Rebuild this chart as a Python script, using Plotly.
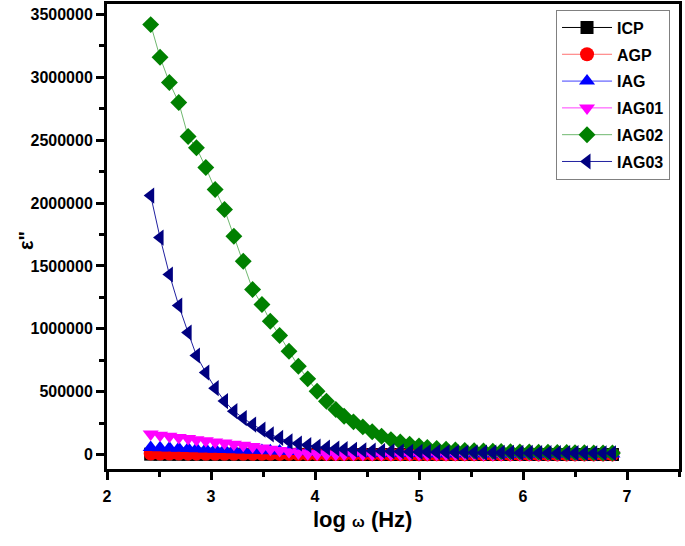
import plotly.graph_objects as go

# ---- data ----
log_w = [2.42, 2.51, 2.60, 2.69, 2.78, 2.86, 2.95, 3.04, 3.13, 3.22,
         3.31, 3.40, 3.49, 3.57, 3.66, 3.75, 3.84, 3.93, 4.02, 4.11,
         4.20, 4.28, 4.37, 4.46, 4.55, 4.64, 4.73, 4.82, 4.91, 5.00,
         5.08, 5.17, 5.26, 5.35, 5.44, 5.53, 5.62, 5.71, 5.79, 5.88,
         5.97, 6.06, 6.15, 6.24, 6.33, 6.42, 6.50, 6.59, 6.68, 6.77, 6.86]

icp = [3000, 2800, 2600, 2400, 2200, 2000, 1900, 1800, 1700, 1600,
       1500, 1400, 1300, 1200, 1100, 1000, 900, 800, 700, 600,
       500, 500, 400, 400, 300, 300, 300, 200, 200, 200,
       200, 100, 100, 100, 100, 100, 100, 100, 100, 100,
       100, 100, 100, 100, 100, 100, 100, 100, 100, 100, 100]

agp = [8000, 7800, 7600, 7400, 7200, 7000, 6800, 6600, 6400, 6200,
       6000, 5800, 5600, 5400, 5200, 5000, 4800, 4600, 4400, 4200,
       4000, 3800, 3600, 3400, 3200, 3000, 2900, 2800, 2700, 2600,
       2500, 2400, 2300, 2200, 2100, 2000, 1900, 1800, 1700, 1600,
       1500, 1400, 1300, 1200, 1100, 1000, 1000, 1000, 1000, 1000, 1000]

iag = [56000, 54000, 52000, 50000, 48000, 46000, 44000, 42000, 40000, 38000,
       36000, 34000, 32000, 30000, 28000, 26000, 24000, 22000, 20000, 18000,
       16000, 14000, 12000, 11000, 10000, 9500, 9000, 8500, 8000, 7600,
       7200, 6800, 6500, 6200, 6000, 5800, 5600, 5400, 5200, 5000,
       4800, 4700, 4600, 4500, 4400, 4300, 4200, 4100, 4000, 4000, 4000]

iag01 = [163000, 154000, 145000, 136000, 127000, 118000, 109000, 100000, 91000, 82000,
         73000, 63000, 53000, 42000, 32000, 22000, 13000, 7000, 4000, 3000,
         3000, 3000, 2500, 2500, 2000, 2000, 2000, 2000, 1800, 1800,
         1600, 1600, 1500, 1500, 1400, 1400, 1300, 1300, 1200, 1200,
         1100, 1100, 1000, 1000, 1000, 1000, 1000, 1000, 1000, 1000, 1000]

iag02 = [3420000, 3160000, 2960000, 2800000, 2530000, 2440000, 2283000, 2108000, 1949000, 1737000,
         1538000, 1313000, 1193000, 1060000, 947000, 822000, 702000, 602000, 504000, 424000,
         358000, 305000, 260000, 220000, 181000, 146000, 119000, 100000, 82000, 68000,
         57000, 48000, 42000, 37000, 33000, 30000, 28000, 26000, 24000, 22000,
         21000, 20000, 19000, 18000, 17000, 16000, 15000, 14000, 13000, 12000, 12000]

iag03 = [2060000, 1726000, 1432000, 1185000, 970000, 788000, 652000, 528000, 425000, 345000,
         290000, 238000, 198000, 160000, 132000, 105000, 88000, 75000, 64000, 55000,
         48000, 43000, 38000, 34000, 31000, 28000, 26000, 24000, 22000, 21000,
         20000, 19000, 18000, 17000, 16000, 16000, 15000, 15000, 14000, 14000,
         13000, 13000, 12000, 12000, 11000, 11000, 11000, 10000, 10000, 10000, 10000]

names = ["ICP", "AGP", "IAG", "IAG01", "IAG02", "IAG03"]
values = [icp, agp, iag, iag01, iag02, iag03]
symbols = ["square", "circle", "triangle-up", "triangle-down", "diamond", "triangle-left"]
marker_colors = ["#000000", "#FF0000", "#0000FF", "#FF00FF", "#008000", "#000080"]
line_colors = ["#000000", "#FF7070", "#4040FF", "#FF40FF", "#70B870", "#2020A0"]
marker_sizes = [13, 14, 14, 14, 13, 14]

FONT = "Liberation Sans"

fig = go.Figure()
for n, v, s, mc, lc, ms in zip(names, values, symbols, marker_colors, line_colors, marker_sizes):
    fig.add_trace(go.Scatter(
        x=log_w, y=v, name=n, mode="lines+markers",
        legendgroup=n,
        line=dict(color=lc, width=1),
        marker=dict(symbol=s, color=mc, size=ms, line=dict(width=0)),
    ))

axis_common = dict(
    showline=True, linecolor="black", linewidth=3, mirror=True,
    ticks="outside", ticklen=8, tickwidth=3, tickcolor="black",
    showgrid=False, zeroline=False, automargin=False,
    tickfont=dict(family=FONT, size=16, color="black", weight="bold"),
)

fig.update_layout(
    width=685, height=546,
    margin=dict(l=107, r=6, t=4, b=77),
    plot_bgcolor="white", paper_bgcolor="white",
    showlegend=True,
    legend=dict(
        x=0.785, y=0.988, xanchor="left", yanchor="top",
        bordercolor="#808080", borderwidth=1, bgcolor="white",
        font=dict(family=FONT, size=16, color="black", weight="bold"),
        tracegroupgap=3, itemwidth=50,
    ),
    xaxis=dict(range=[2, 7.5], dtick=1, tick0=0, ticklabelstandoff=3,
               minor=dict(dtick=0.5, ticklen=5, tickwidth=3, tickcolor="black", ticks="outside"),
               **axis_common),
    yaxis=dict(range=[-115000, 3584000], dtick=500000, tick0=0, tickformat="d",
               minor=dict(dtick=250000, ticklen=5, tickwidth=3, tickcolor="black", ticks="outside"),
               **axis_common),
    annotations=[
        dict(text="log <span style='font-size:15px'>ω</span> (Hz)", xref="paper", yref="paper",
             x=0.447, y=-0.108, xanchor="center", yanchor="middle", showarrow=False,
             font=dict(family=FONT, size=22, color="black", weight="bold")),
        dict(text="ε\"", xref="paper", yref="paper",
             x=-0.142, y=0.492, xanchor="center", yanchor="middle", showarrow=False,
             textangle=-90,
             font=dict(family=FONT, size=20, color="black", weight="bold")),
    ],
)

fig.write_html("out.html", config={"displayModeBar": False},
               post_script="document.body.style.margin='0';document.body.style.overflow='hidden';")
